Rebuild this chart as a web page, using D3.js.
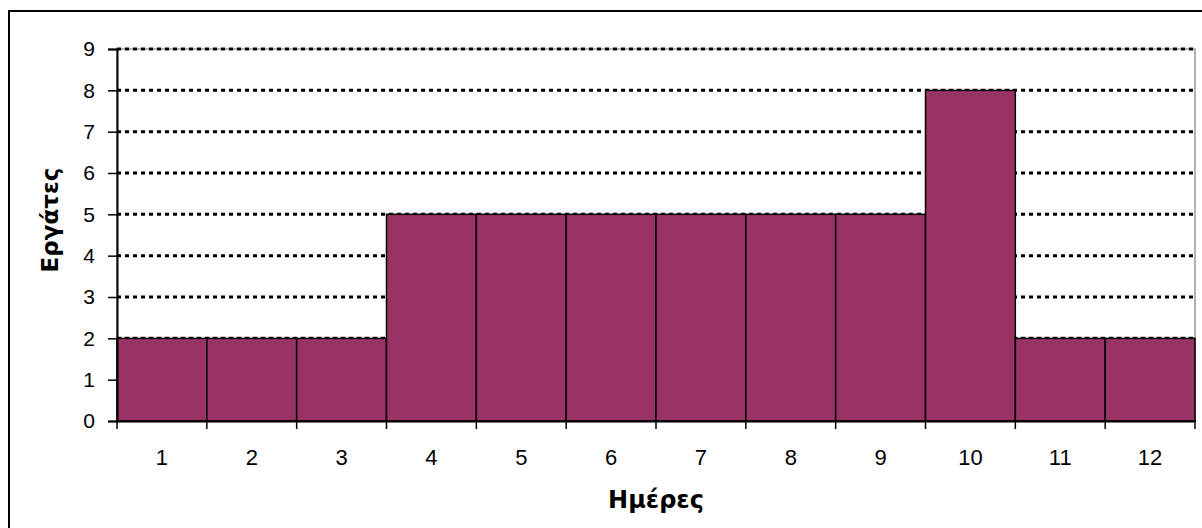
<!DOCTYPE html>
<html><head><meta charset="utf-8">
<script src="https://cdn.jsdelivr.net/npm/d3@7"></script>
<style>body{margin:0;background:#fff}svg{display:block}</style>
</head><body>
<script>
const days = ["1","2","3","4","5","6","7","8","9","10","11","12"];
const workers = [2,2,2,5,5,5,5,5,5,8,2,2];
const yTicks = [0,1,2,3,4,5,6,7,8,9];
const xTitle = "Ημέρες";
const yTitle = "Εργάτες";

const W = 1202, H = 528;
const m = {left:117, right:7, top:49, bottom:107};
const svg = d3.select("body").append("svg").attr("width",W).attr("height",H);

// outer frame
svg.append("rect").attr("x",9).attr("y",11).attr("width",1210).attr("height",540)
  .attr("fill","none").attr("stroke","#000").attr("stroke-width",2);

const x = d3.scaleBand().domain(days).range([m.left, W-m.right]).padding(0);
const y = d3.scaleLinear().domain([0,9]).range([H-m.bottom, m.top]);

// plot border (grey)
svg.append("rect").attr("x",m.left).attr("y",m.top).attr("width",W-m.right-m.left).attr("height",H-m.bottom-m.top)
  .attr("fill","none").attr("stroke","#999").attr("stroke-width",1.5);

// gridlines
svg.append("g").selectAll("line").data(yTicks.filter(d=>d>0)).join("line")
  .attr("x1",m.left).attr("x2",W-m.right)
  .attr("y1",d=>y(d)).attr("y2",d=>y(d))
  .attr("stroke","#000").attr("stroke-width",3).attr("stroke-dasharray","4,4");

// bars
svg.append("g").selectAll("rect").data(workers).join("rect")
  .attr("x",(d,i)=>x(days[i])).attr("width",x.bandwidth())
  .attr("y",d=>y(d)).attr("height",d=>y(0)-y(d))
  .attr("fill","#993366").attr("stroke","#000").attr("stroke-width",1.5);

// y axis
const ya = svg.append("g").attr("transform",`translate(${m.left},0)`)
  .call(d3.axisLeft(y).tickValues(yTicks).tickSize(9).tickPadding(13).tickFormat(d3.format("d")));
ya.select(".domain").attr("stroke","#000").attr("stroke-width",2);
ya.selectAll(".tick line").attr("stroke","#000").attr("stroke-width",1.5);
ya.selectAll("text").attr("font-family","Liberation Sans, Arial, sans-serif").attr("font-size",21).attr("fill","#000");

// x axis with ticks at band edges
const xa = svg.append("g").attr("transform",`translate(0,${y(0)})`)
  .call(d3.axisBottom(x).tickSize(0).tickPadding(28));
xa.select(".domain").attr("stroke","#000").attr("stroke-width",2);
xa.selectAll("text").attr("font-family","Liberation Sans, Arial, sans-serif").attr("font-size",22).attr("fill","#000");
xa.append("g").selectAll("line").data(days.concat(["end"])).join("line")
  .attr("x1",(d,i)=> i<days.length ? x(d) : x(days[days.length-1])+x.bandwidth())
  .attr("x2",(d,i)=> i<days.length ? x(d) : x(days[days.length-1])+x.bandwidth())
  .attr("y1",0).attr("y2",8).attr("stroke","#000").attr("stroke-width",1.5);

// titles
svg.append("text").attr("x",(m.left+W-m.right)/2).attr("y",508)
  .attr("text-anchor","middle").attr("font-family","DejaVu Sans, Verdana, sans-serif")
  .attr("font-weight","bold").attr("font-size",24).text(xTitle);
svg.append("text").attr("transform",`translate(58,220) rotate(-90)`)
  .attr("text-anchor","middle").attr("font-family","DejaVu Sans, Verdana, sans-serif")
  .attr("font-weight","bold").attr("font-size",23).text(yTitle);
</script>
</body></html>
